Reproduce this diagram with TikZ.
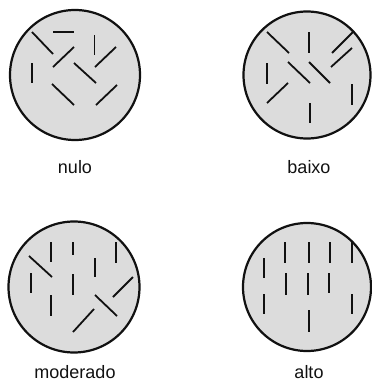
\documentclass[tikz,border=0pt]{standalone}
\usepackage{fontspec}
\setmainfont{Liberation Sans}
\definecolor{discfill}{HTML}{DCDCDC}
\definecolor{inkc}{HTML}{111111}
\tikzset{
  disc/.style={draw=inkc, line width=2.2pt, fill=discfill},
  seg/.style={draw=inkc, line width=1.8pt},
  lbl/.style={anchor=base, inner sep=0pt, text=inkc, font=\fontsize{18}{20}\selectfont}
}
\begin{document}
\begin{tikzpicture}[x=1pt,y=-1pt]
\useasboundingbox (0,0) rectangle (372,383);
% nulo
\node[disc, circle, minimum size=130pt, inner sep=0pt] (c1) at (75,75) {};
\draw[seg] (32,32) -- (53,54);
\draw[seg] (53,32) -- (74,32);
\draw[seg] (94.5,35) -- (94.5,55);
\draw[seg] (53,67) -- (74,47);
\draw[seg] (116,47) -- (95,67);
\draw[seg] (32,63) -- (32,83);
\draw[seg] (74,63) -- (96,83);
\draw[seg] (52,84) -- (74,105);
\draw[seg] (117,85) -- (96,105);
\node[lbl] (t1) at (75,173) {nulo};
% baixo
\node[disc, circle, minimum size=127pt, inner sep=0pt] (c2) at (307,75) {};
\draw[seg] (267,32) -- (289,53);
\draw[seg] (309,32) -- (309,53);
\draw[seg] (353,32) -- (332,53);
\draw[seg] (352,48) -- (331,67);
\draw[seg] (288,62) -- (310,83);
\draw[seg] (309,62) -- (330,83);
\draw[seg] (267,63) -- (267,84);
\draw[seg] (288,83) -- (267,103);
\draw[seg] (352,84) -- (352,105);
\draw[seg] (310,103) -- (310,123);
\node[lbl] (t2) at (309,173) {baixo};
% moderado
\node[disc, circle, minimum size=131pt, inner sep=0pt] (c3) at (74,287) {};
\draw[seg] (51,242) -- (51,262);
\draw[seg] (73,242) -- (73,255);
\draw[seg] (116,242) -- (116,263);
\draw[seg] (29,256) -- (52,277);
\draw[seg] (95,258) -- (95,277);
\draw[seg] (31,273) -- (31,293);
\draw[seg] (73,274) -- (73,295);
\draw[seg] (133,277) -- (113,297);
\draw[seg] (51,295) -- (51,316);
\draw[seg] (95,295) -- (117,316);
\draw[seg] (94,309) -- (73,332);
\node[lbl] (t3) at (75,378.5) {moderado};
% alto
\node[disc, circle, minimum size=128pt, inner sep=0pt] (c4) at (307,287) {};
\draw[seg] (285,242) -- (285,263);
\draw[seg] (309,242) -- (309,263);
\draw[seg] (330,242) -- (330,263);
\draw[seg] (352,242) -- (352,263);
\draw[seg] (264,258) -- (264,278);
\draw[seg] (286,273) -- (286,295);
\draw[seg] (308,273) -- (308,295);
\draw[seg] (329,273) -- (329,293);
\draw[seg] (264,294) -- (264,314);
\draw[seg] (352,294) -- (352,314);
\draw[seg] (309,310) -- (309,332);
\node[lbl] (t4) at (309,378.5) {alto};
\end{tikzpicture}
\end{document}
